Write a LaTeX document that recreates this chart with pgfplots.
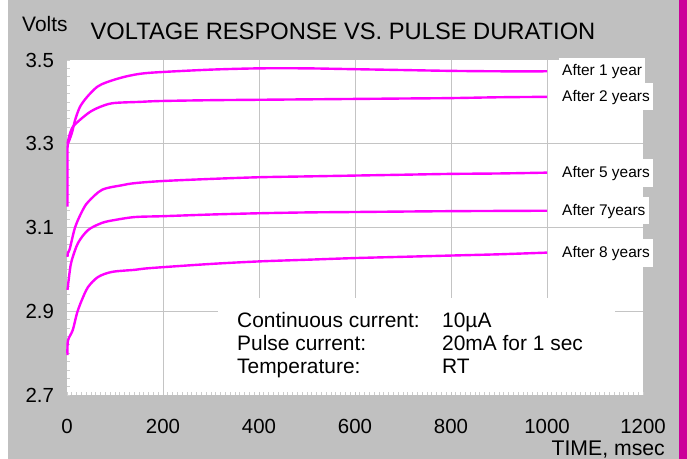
\documentclass[border=0pt]{standalone}
\usepackage{pgfplots}
\pgfplotsset{compat=1.18}
\usepackage{fontspec}
\setmainfont{Liberation Sans}
\definecolor{bggray}{RGB}{192,192,192}
\definecolor{gridgray}{RGB}{196,196,196}
\definecolor{tickgray}{RGB}{205,205,205}
\definecolor{barmag}{RGB}{204,0,153}
\definecolor{curve}{RGB}{255,0,255}
\begin{document}
\begin{tikzpicture}[x=1bp,y=1bp]
\fill[white] (0,0) rectangle (687,459);
\fill[bggray] (8,0) rectangle (679,459);
\fill[barmag] (679,0) rectangle (687,459);
\begin{axis}[
  at={(67bp,64bp)}, anchor=south west,
  scale only axis, width=576bp, height=335bp,
  xmin=0, xmax=1200, ymin=2.7, ymax=3.5,
  axis line style={draw=none},
  axis background/.style={fill=white},
  xtick={0,200,400,600,800,1000,1200},
  ytick={2.7,2.9,3.1,3.3,3.5},
  minor x tick num=19, minor y tick num=9,
  tick align=inside, xtick pos=bottom, ytick pos=left,
  major tick length=3bp, minor tick length=3bp,
  tick style={color=tickgray, line width=0.7bp},
  scaled ticks=false,
  /pgf/number format/assume math mode=true,
  ticklabel style={font=\fontsize{20.5}{21}\selectfont},
  xticklabel style={/pgf/number format/1000 sep={}, yshift=-21bp},
  yticklabel style={/pgf/number format/fixed, /pgf/number format/precision=1,
    /pgf/number format/fixed zerofill, xshift=-9.5bp},
  clip=false,
]
\pgfplotsinvokeforeach{200,400,600,800,1000}{
  \draw[gridgray, line width=0.9bp] (axis cs:#1,2.7) -- (axis cs:#1,3.5);}
\pgfplotsinvokeforeach{2.9,3.1,3.3}{
  \draw[gridgray, line width=0.9bp] (axis cs:0,#1) -- (axis cs:1200,#1);}
\fill[white] (axis cs:315,2.708) rectangle (axis cs:1142,2.932);
% After 1 year
\addplot[curve, line width=2.4bp] coordinates {(1,3.15) (1,3.29) (2,3.30)};
\addplot[curve, line width=2.4bp, smooth] coordinates {
 (2,3.30) (10,3.325) (17,3.357) (27,3.388) (42,3.412) (63,3.436) (83,3.447)
 (117,3.459) (152,3.467) (194,3.471) (300,3.477) (400,3.480) (500,3.480)
 (600,3.478) (700,3.476) (800,3.474) (900,3.473) (1000,3.473)};
% After 2 years
\addplot[curve, line width=2.4bp, smooth] coordinates {
 (1,3.30) (5,3.32) (12,3.34) (27,3.357) (48,3.376) (69,3.388) (96,3.397)
 (152,3.400) (194,3.402) (300,3.404) (400,3.405) (500,3.406) (600,3.407)
 (700,3.408) (800,3.409) (900,3.411) (1000,3.412)};
% After 5 years
\addplot[curve, line width=2.4bp, smooth] coordinates {
 (1,3.03) (2,3.04) (6,3.05) (17,3.101) (32,3.14) (44,3.161) (73,3.19)
 (115,3.201) (142,3.206) (200,3.211) (300,3.216) (400,3.220) (500,3.222)
 (600,3.224) (700,3.226) (800,3.228) (900,3.229) (1000,3.231)};
% After 7 years
\addplot[curve, line width=2.4bp, smooth] coordinates {
 (1,2.951) (6,2.998) (10,3.022) (23,3.063) (44,3.094) (73,3.111) (100,3.118)
 (142,3.125) (200,3.127) (300,3.131) (400,3.134) (500,3.136) (600,3.137)
 (800,3.139) (1000,3.140)};
% After 8 years
\addplot[curve, line width=2.4bp, smooth] coordinates {
 (1,2.795) (2,2.83) (12,2.855) (21,2.896) (31,2.927) (44,2.958) (65,2.982)
 (94,2.994) (142,2.999) (173,3.003) (300,3.013) (400,3.019) (500,3.023)
 (600,3.027) (700,3.030) (800,3.033) (900,3.036) (1000,3.040)};
\end{axis}
% labels on the right
\fill[white] (559,376) rectangle (645,401);
\fill[white] (559,349) rectangle (653,376);
\fill[white] (559,272) rectangle (653,300);
\fill[white] (559,235) rectangle (649,262);
\fill[white] (559,192) rectangle (653,220);
\begin{scope}[every node/.style={anchor=base west, inner sep=0pt, font=\fontsize{15.5}{16}\selectfont}]
\node at (562,383) {After 1 year};
\node at (562,357) {After 2 years};
\node at (562,281) {After 5 years};
\node at (562,243) {After 7years};
\node at (562,201) {After 8 years};
\end{scope}
\begin{scope}[every node/.style={anchor=base west, inner sep=0pt, font=\fontsize{21}{22}\selectfont}]
\node at (237,131) {Continuous current:};
\node at (237,108) {Pulse current:};
\node at (237,85) {Temperature:};
\node at (442,131) {10µA};
\node at (442,108) {20mA for 1 sec};
\node at (442,85) {RT};
\end{scope}
\node[anchor=base, inner sep=0pt, font=\fontsize{23.8}{24}\selectfont] at (343,419) {VOLTAGE RESPONSE VS. PULSE DURATION};
\node[anchor=base west, inner sep=0pt, font=\fontsize{21}{22}\selectfont] at (22,427) {Volts};
\node[anchor=base east, inner sep=0pt, font=\fontsize{21.3}{22}\selectfont] at (665,3) {TIME, msec};
\pgfresetboundingbox
\path[use as bounding box] (0,0) rectangle (687,459);
\end{tikzpicture}
\end{document}
